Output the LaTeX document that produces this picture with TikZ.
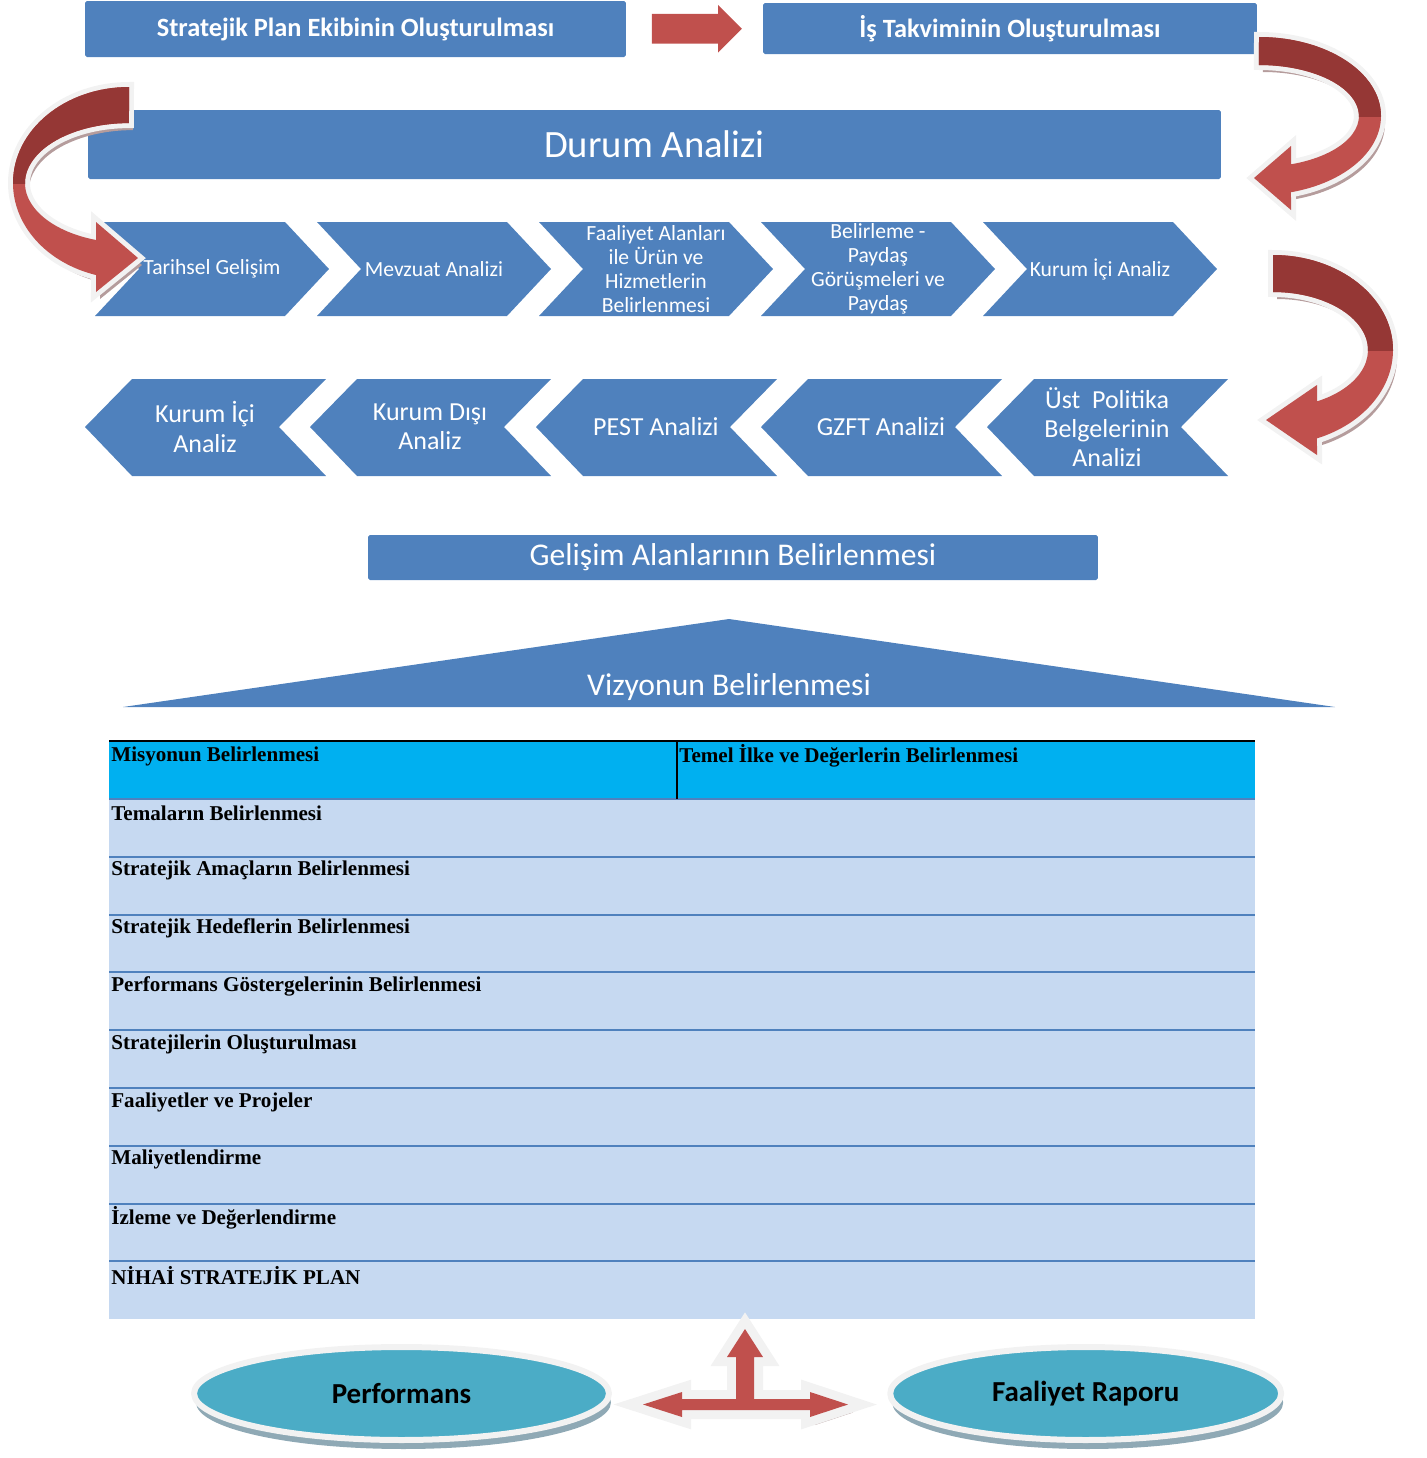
\documentclass[tikz,border=0pt]{standalone}
\usepackage{fontspec}
\setmainfont{Carlito}
\newfontfamily\tablefont{Liberation Serif}
\usetikzlibrary{shapes.geometric,shapes.arrows,shadows,calc}

\definecolor{boxblue}{HTML}{4F81BD}
\definecolor{arrowred}{HTML}{C0504D}
\definecolor{arrowdark}{HTML}{953735}
\definecolor{arrowshade}{HTML}{B59C9C}
\definecolor{rimgrey}{HTML}{F2F2F2}
\definecolor{headcyan}{HTML}{00B0F0}
\definecolor{rowblue}{HTML}{C6D9F1}
\definecolor{ellblue}{HTML}{4BACC6}
\definecolor{ellshade}{HTML}{8FA9B5}

\tikzset{
  bluebox/.style={fill=boxblue, rounded corners=1pt, inner sep=0pt, text=white},
  chevtext/.style={text=white, align=center, inner sep=0pt, font=\fontsize{12.3}{13.6}\selectfont},
  backtext/.style={text=white, align=center, inner sep=0pt, font=\fontsize{14.8}{16.6}\selectfont},
  rowtext/.style={anchor=west, inner sep=0pt, font=\tablefont\bfseries\fontsize{12}{14}\selectfont},
  rim/.style={draw=rimgrey, line width=0.2cm, line join=miter},
  oval/.style={ellipse, fill=ellblue, draw=rimgrey, line width=0.12cm, inner sep=0pt,
    minimum height=1.86cm, font=\bfseries\fontsize{16.5}{19}\selectfont,
    drop shadow={shadow xshift=0.04cm, shadow yshift=-0.18cm, fill=ellshade, opacity=1}}
}

% curved arrows (pixel grid, y downwards)
\def\curveA{(129,87) arc[start angle=270, end angle=106.5, x radius=116, y radius=96]
  -- (96,292) -- (138,258) -- (96,222) -- (96,240)
  arc[start angle=108.5, end angle=270, x radius=104, y radius=60] -- cycle}
\def\curveB{(1259,37) arc[start angle=-90, end angle=74.8, x radius=122, y radius=79]
  -- (1291,210) -- (1254,178) -- (1291,146) -- (1291,164.3)
  arc[start angle=71.3, end angle=-90, x radius=100, y radius=51] -- cycle}
\def\curveC{(1273,255) arc[start angle=-90, end angle=68.5, x radius=120, y radius=95]
  -- (1317,455) -- (1266,420) -- (1317,385) -- (1317,401.4)
  arc[start angle=62.4, end angle=-90, x radius=95, y radius=58] -- cycle}
\def\crossarrow{(745,1329) -- (763,1357) -- (754,1357) -- (754,1399) -- (810,1399)
  -- (810,1392) -- (848,1404.5) -- (810,1417) -- (810,1410) -- (682,1410) -- (682,1417)
  -- (643,1404.5) -- (682,1392) -- (682,1399) -- (736,1399) -- (736,1357) -- (727,1357) -- cycle}

\begin{document}
\begin{tikzpicture}[x=0.02cm, y=-0.02cm, line join=round]
\useasboundingbox (0,0) rectangle (1427,1458);

% top row
\node[bluebox, minimum width=10.82cm, minimum height=1.12cm, font=\bfseries\fontsize{15}{18}\selectfont]
  (ekip) at (355.5,29) {Stratejik Plan Ekibinin Oluşturulması};
\node[bluebox, minimum width=9.88cm, minimum height=1.02cm, font=\bfseries\fontsize{15}{18}\selectfont]
  (takvim) at (1010,28.5) {İş Takviminin Oluşturulması};
\node[single arrow, fill=arrowred, inner xsep=0pt, inner ysep=0.29cm, minimum height=1.8cm,
  single arrow head extend=0.18cm, xshift=-0.1cm] (ok) at ($(ekip.east)!0.5!(takvim.west)$) {};

\node[bluebox, minimum width=22.66cm, minimum height=1.38cm, font=\fontsize{22}{26}\selectfont]
  (durum) at (654.5,144.5) {Durum Analizi};

% chevrons, first row
\foreach \x/\name/\txt in {95/tarihsel/Tarihsel Gelişim, 317/mevzuat/Mevzuat Analizi,
    539/faaliyet/{Faaliyet Alanları\\ile Ürün ve\\Hizmetlerin\\Belirlenmesi},
    761/paydas/{Belirleme -\\Paydaş\\Görüşmeleri ve\\Paydaş}, 983/kurumici/Kurum İçi Analiz}{
  \fill[boxblue] (\x,222) -- ++(190,0) -- ++(44,47) -- ++(-44,47) -- ++(-190,0) -- ++(44,-47) -- cycle;
  \node[chevtext] (\name) at (\x+117,269) {\txt};
}

% chevrons, second row
\foreach \x/\name/\txt in {85/icanaliz/{Kurum İçi\\Analiz}, 310/disanaliz/{Kurum Dışı\\Analiz},
    536/pest/PEST Analizi, 761/gzft/GZFT Analizi, 987/ustpolitika/{Üst~ Politika\\Belgelerinin\\Analizi}}{
  \fill[boxblue] (\x,427) -- ++(47,-48) -- ++(194,0) -- ++(-47,48) -- ++(47,49) -- ++(-194,0) -- cycle;
  \node[backtext] (\name) at (\x+120,427) {\txt};
}

% curved arrows
\foreach \shape/\cy in {\curveA/183, \curveB/116, \curveC/350}{
  \fill[arrowshade, shift={(4,7)}] \shape;
  \draw[rim] \shape;
  \fill[arrowred] \shape;
  \begin{scope}
    \clip (0,0) rectangle (1427,\cy);
    \fill[arrowdark] \shape;
  \end{scope}
}

\node[bluebox, minimum width=14.6cm, minimum height=0.9cm, font=\fontsize{18}{21}\selectfont]
  (gelisim) at (733,557.5) {Gelişim Alanlarının Belirlenmesi};

% vision
\fill[boxblue] (729,619) -- (1335,707) -- (123,707) -- cycle;
\node[text=white, font=\fontsize{18}{21}\selectfont] (vizyon) at (729,687) {Vizyonun Belirlenmesi};

% table
\fill[headcyan] (109,741) rectangle (1255,799);
\fill[rowblue] (109,799) rectangle (1255,1319);
\foreach \k in {0,...,8}
  \draw[boxblue, line width=0.04cm] (109,799+57.8*\k) -- (1255,799+57.8*\k);
\draw[black, line width=0.05cm] (109,741) -- (1255,741);
\draw[black, line width=0.04cm] (677,741) -- (677,799);
\node[rowtext] (misyon) at (111,756) {Misyonun Belirlenmesi};
\node[rowtext] (temel) at (679,756) {Temel İlke ve Değerlerin Belirlenmesi};
\foreach \txt [count=\k from 0] in {Temaların Belirlenmesi, Stratejik Amaçların Belirlenmesi,
    Stratejik Hedeflerin Belirlenmesi, Performans Göstergelerinin Belirlenmesi,
    Stratejilerin Oluşturulması, Faaliyetler ve Projeler, Maliyetlendirme,
    İzleme ve Değerlendirme, NİHAİ STRATEJİK PLAN}
  \node[rowtext] (row\k) at (111,813+57.8*\k) {\txt};

% bottom
\node[oval, minimum width=8.3cm] (performans) at (401.5,1393.5) {Performans};
\node[oval, minimum width=7.82cm] (rapor) at (1085.7,1393.5) {Faaliyet Raporu};
\fill[arrowshade, shift={(5,8)}] \crossarrow;
\draw[rim, line width=0.36cm] \crossarrow;
\fill[arrowred] \crossarrow;
\end{tikzpicture}
\end{document}
